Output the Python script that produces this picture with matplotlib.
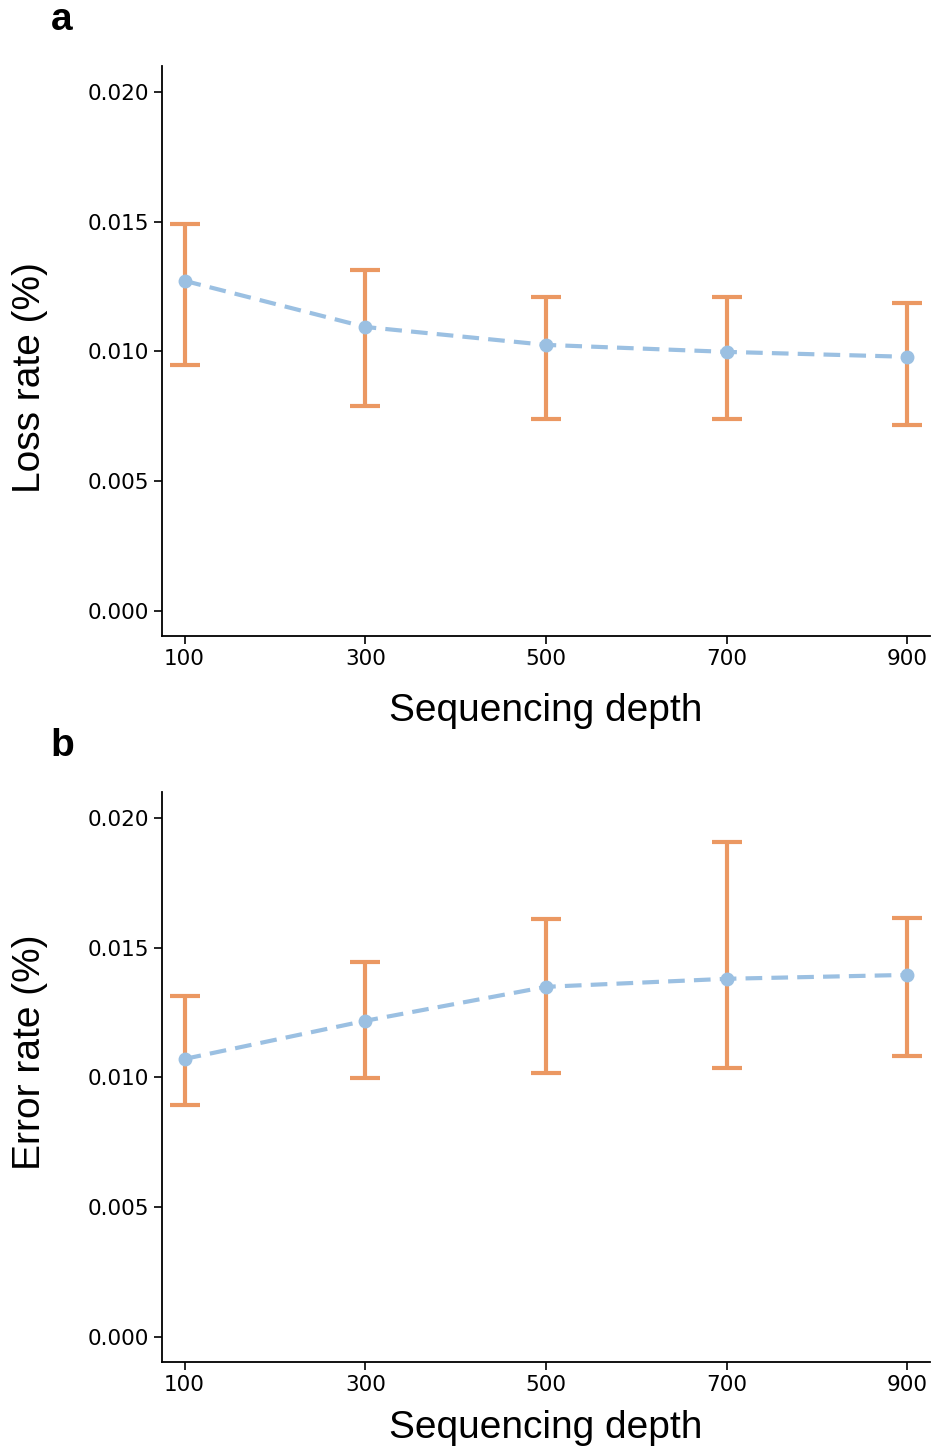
import numpy as np
import matplotlib
matplotlib.use("Agg")
import matplotlib.pyplot as plt

depth = [100, 300, 500, 700, 900]

loss_mean = [0.01272, 0.01094, 0.01025, 0.00998, 0.00979]
loss_low = [0.00948, 0.00790, 0.00740, 0.00740, 0.00717]
loss_high = [0.01491, 0.01314, 0.01210, 0.01210, 0.01187]

err_mean = [0.01071, 0.01218, 0.01349, 0.01380, 0.01395]
err_low = [0.00894, 0.00998, 0.01017, 0.01037, 0.01083]
err_high = [0.01314, 0.01445, 0.01611, 0.01908, 0.01615]

blue = "#9bc0e2"
orange = "#eb9862"

fig = plt.figure(figsize=(9.33, 14.5), dpi=100)

# letter, ylabel, data, axes rect, ylabel vertical position, xlabel pad
panels = [
    ("a", "Loss rate (%)", loss_mean, loss_low, loss_high, [0.1736, 0.5614, 0.8232, 0.3931], 0.453, 17),
    ("b", "Error rate (%)", err_mean, err_low, err_high, [0.1736, 0.0607, 0.8232, 0.3931], 0.544, 11),
]

for letter, ylabel, mean, low, high, rect, ly, pad in panels:
    ax = fig.add_axes(rect)
    mean = np.array(mean)
    yerr = [mean - np.array(low), np.array(high) - mean]
    ax.errorbar(depth, mean, yerr=yerr, fmt="none", ecolor=orange,
                elinewidth=3, capsize=11, capthick=3, zorder=2)
    ax.plot(depth, mean, "o--", color=blue, linewidth=3, markersize=9,
            dashes=(4, 2.2), zorder=3)
    ax.set_xlim(75, 925)
    ax.set_ylim(-0.00097, 0.0210)
    ax.set_xticks(depth)
    ax.set_yticks([0.0, 0.005, 0.010, 0.015, 0.020])
    ax.set_yticklabels(["0.000", "0.005", "0.010", "0.015", "0.020"])
    ax.tick_params(labelsize=15.5, length=6, width=1.2)
    for s in ["top", "right"]:
        ax.spines[s].set_visible(False)
    for s in ["left", "bottom"]:
        ax.spines[s].set_linewidth(1.3)
    ax.set_xlabel("Sequencing depth", fontsize=28, family="Liberation Sans", labelpad=pad)
    ax.set_ylabel(ylabel, fontsize=28, family="Liberation Sans")
    ax.yaxis.set_label_coords(-0.148, ly)
    ax.text(-0.13, 1.08, letter, transform=ax.transAxes, fontsize=28,
            fontweight="bold", family="Liberation Sans", va="center", ha="center")

fig.savefig("out.png", dpi=100)
